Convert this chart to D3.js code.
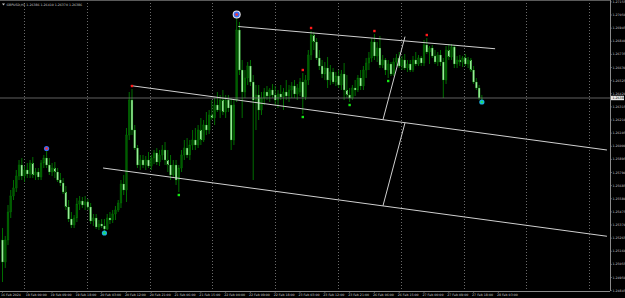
<!DOCTYPE html>
<html>
<head>
<meta charset="utf-8">
<script src="https://cdn.jsdelivr.net/npm/d3@7"></script>
<style>
  body { margin: 0; background: #000; }
  svg { display: block; }
  text { font-family: "DejaVu Sans", sans-serif; }
</style>
</head>
<body>
<div id="chart"></div>
<script>
// symbol + H1 candles
var symbolLabel = "GBPUSD,H1";

var opens = [1.25250,1.25074,1.25250,1.25474,1.25602,1.25666,1.25762,1.25850,1.25762,1.25810,
  1.25778,1.25866,1.25770,1.25794,1.25754,1.25866,1.25906,1.25850,1.25794,1.25826,
  1.25794,1.25730,1.25706,1.25634,1.25514,1.25418,1.25370,1.25426,1.25538,1.25562,
  1.25530,1.25554,1.25514,1.25402,1.25426,1.25354,1.25378,1.25362,1.25338,1.25426,
  1.25410,1.25458,1.25490,1.25546,1.25698,1.25650,1.26090,1.26370,1.26130,1.25986,
  1.25850,1.25890,1.25850,1.25890,1.25842,1.25906,1.25946,1.25874,1.25930,1.25970,
  1.25890,1.25850,1.25770,1.25850,1.25730,1.25826,1.25930,1.25986,1.25930,1.26010,
  1.26050,1.26010,1.26130,1.26050,1.26170,1.26130,1.26250,1.26226,1.26330,1.26290,
  1.26370,1.26274,1.26370,1.26330,1.26050,1.26370,1.26930,1.26610,1.26434,1.26546,
  1.26642,1.26514,1.26370,1.26410,1.26290,1.26386,1.26434,1.26402,1.26450,1.26410,
  1.26370,1.26418,1.26394,1.26434,1.26402,1.26450,1.26482,1.26418,1.26434,1.26514,
  1.26394,1.26530,1.26730,1.26890,1.26834,1.26706,1.26642,1.26578,1.26626,1.26530,
  1.26594,1.26514,1.26562,1.26490,1.26578,1.26450,1.26410,1.26386,1.26466,1.26450,
  1.26546,1.26482,1.26610,1.26666,1.26706,1.26834,1.26722,1.26786,1.26650,1.26690,
  1.26610,1.26658,1.26578,1.26674,1.26706,1.26642,1.26690,1.26626,1.26658,1.26610,
  1.26690,1.26658,1.26706,1.26666,1.26810,1.26754,1.26786,1.26722,1.26674,1.26730,
  1.26674,1.26530,1.26770,1.26714,1.26794,1.26658,1.26690,1.26674,1.26706,1.26658,
  1.26690,1.26610,1.26514,1.26466,1.26386];

var highs = [1.25346,1.25282,1.25530,1.25650,1.25730,1.25810,1.25890,1.25906,1.25842,1.25866,
  1.25890,1.25914,1.25826,1.25826,1.25890,1.25930,1.25970,1.25906,1.25866,1.25874,
  1.25826,1.25786,1.25746,1.25682,1.25570,1.25474,1.25450,1.25586,1.25602,1.25594,
  1.25602,1.25578,1.25546,1.25458,1.25458,1.25410,1.25418,1.25418,1.25458,1.25474,
  1.25490,1.25522,1.25570,1.25730,1.25770,1.26146,1.26434,1.26458,1.26170,1.26010,
  1.25930,1.25930,1.25922,1.25954,1.25930,1.25970,1.25986,1.25970,1.26010,1.26034,
  1.25970,1.25930,1.25890,1.25890,1.25850,1.25970,1.26050,1.26066,1.26050,1.26130,
  1.26146,1.26170,1.26226,1.26210,1.26274,1.26290,1.26370,1.26386,1.26434,1.26410,
  1.26450,1.26410,1.26410,1.26386,1.26370,1.27042,1.26994,1.26690,1.26610,1.26674,
  1.26690,1.26570,1.26490,1.26490,1.26434,1.26466,1.26482,1.26466,1.26498,1.26482,
  1.26450,1.26490,1.26466,1.26530,1.26490,1.26514,1.26530,1.26498,1.26546,1.26586,
  1.26570,1.26770,1.26922,1.26914,1.26866,1.26770,1.26690,1.26674,1.26714,1.26650,
  1.26626,1.26594,1.26610,1.26610,1.26666,1.26570,1.26466,1.26490,1.26530,1.26570,
  1.26610,1.26642,1.26706,1.26754,1.26866,1.26898,1.26834,1.26882,1.26730,1.26706,
  1.26690,1.26674,1.26706,1.26738,1.26754,1.26722,1.26738,1.26690,1.26690,1.26722,
  1.26754,1.26730,1.26722,1.26850,1.26866,1.26802,1.26810,1.26770,1.26754,1.26770,
  1.26706,1.26802,1.26818,1.26818,1.26810,1.26722,1.26730,1.26722,1.26738,1.26714,
  1.26706,1.26642,1.26546,1.26490,1.26410];

var lows = [1.24914,1.25026,1.25210,1.25426,1.25570,1.25634,1.25730,1.25730,1.25714,1.25746,
  1.25746,1.25746,1.25730,1.25730,1.25730,1.25826,1.25826,1.25770,1.25762,1.25746,
  1.25714,1.25682,1.25618,1.25490,1.25394,1.25346,1.25346,1.25394,1.25490,1.25506,
  1.25490,1.25490,1.25378,1.25362,1.25338,1.25330,1.25346,1.25322,1.25330,1.25378,
  1.25386,1.25410,1.25474,1.25506,1.25610,1.25554,1.26050,1.26090,1.25970,1.25826,
  1.25810,1.25826,1.25810,1.25826,1.25810,1.25858,1.25850,1.25842,1.25890,1.25850,
  1.25794,1.25730,1.25746,1.25690,1.25634,1.25794,1.25890,1.25906,1.25890,1.25970,
  1.25970,1.25986,1.26010,1.26034,1.26090,1.26098,1.26210,1.26170,1.26274,1.26226,
  1.26250,1.26226,1.26274,1.25970,1.26010,1.26354,1.26570,1.26226,1.26386,1.26490,
  1.26482,1.25730,1.26130,1.26210,1.26250,1.26330,1.26370,1.26354,1.26386,1.26330,
  1.26306,1.26370,1.26290,1.26370,1.26354,1.26386,1.26386,1.26370,1.26402,1.26258,
  1.26370,1.26490,1.26690,1.26770,1.26690,1.26610,1.26546,1.26530,1.26466,1.26490,
  1.26498,1.26482,1.26466,1.26450,1.26370,1.26386,1.26354,1.26370,1.26402,1.26434,
  1.26450,1.26450,1.26546,1.26610,1.26674,1.26690,1.26674,1.26626,1.26626,1.26570,
  1.26546,1.26562,1.26562,1.26642,1.26626,1.26610,1.26610,1.26594,1.26594,1.26594,
  1.26642,1.26642,1.26642,1.26642,1.26738,1.26658,1.26706,1.26658,1.26642,1.26642,
  1.26386,1.26498,1.26690,1.26690,1.26626,1.26626,1.26642,1.26634,1.26642,1.26626,
  1.26594,1.26498,1.26450,1.26370,1.26370];

var closes = [1.25074,1.25250,1.25474,1.25602,1.25666,1.25762,1.25850,1.25762,1.25810,1.25778,
  1.25866,1.25770,1.25794,1.25754,1.25866,1.25906,1.25850,1.25794,1.25826,1.25794,
  1.25730,1.25706,1.25634,1.25514,1.25418,1.25370,1.25426,1.25538,1.25562,1.25530,
  1.25554,1.25514,1.25402,1.25426,1.25354,1.25378,1.25362,1.25338,1.25426,1.25410,
  1.25458,1.25490,1.25546,1.25698,1.25650,1.26090,1.26370,1.26130,1.25986,1.25850,
  1.25890,1.25850,1.25890,1.25842,1.25906,1.25946,1.25874,1.25930,1.25970,1.25890,
  1.25850,1.25770,1.25850,1.25730,1.25826,1.25930,1.25986,1.25930,1.26010,1.26050,
  1.26010,1.26130,1.26050,1.26170,1.26130,1.26250,1.26226,1.26330,1.26290,1.26370,
  1.26274,1.26370,1.26306,1.26050,1.26330,1.26930,1.26610,1.26434,1.26546,1.26642,
  1.26514,1.26370,1.26410,1.26290,1.26386,1.26434,1.26402,1.26450,1.26410,1.26370,
  1.26418,1.26394,1.26434,1.26402,1.26450,1.26482,1.26418,1.26466,1.26514,1.26394,
  1.26530,1.26730,1.26890,1.26834,1.26706,1.26642,1.26578,1.26626,1.26530,1.26594,
  1.26514,1.26562,1.26490,1.26578,1.26450,1.26410,1.26386,1.26466,1.26450,1.26546,
  1.26482,1.26610,1.26666,1.26706,1.26834,1.26722,1.26786,1.26650,1.26690,1.26610,
  1.26658,1.26578,1.26674,1.26706,1.26642,1.26690,1.26626,1.26658,1.26610,1.26690,
  1.26658,1.26706,1.26666,1.26810,1.26754,1.26786,1.26722,1.26674,1.26730,1.26674,
  1.26530,1.26770,1.26714,1.26794,1.26658,1.26690,1.26674,1.26706,1.26658,1.26690,
  1.26610,1.26514,1.26466,1.26386,1.26386];

// time axis labels, one every 9 bars
var timeLabels = ["16 Feb 2024","19 Feb 00:00","19 Feb 09:00","19 Feb 18:00","20 Feb 03:00",
  "20 Feb 12:00","20 Feb 21:00","21 Feb 06:00","21 Feb 15:00","22 Feb 00:00","22 Feb 09:00",
  "22 Feb 18:00","23 Feb 03:00","23 Feb 12:00","23 Feb 21:00","26 Feb 06:00","26 Feb 15:00",
  "27 Feb 00:00","27 Feb 09:00","27 Feb 18:00","28 Feb 03:00"];

var priceTicks = [1.27155,1.27050,1.26945,1.26840,1.26735,1.26630,1.26525,1.26420,1.26315,
  1.26210,1.26105,1.26000,1.25895,1.25790,1.25685,1.25580,1.25475,1.25370,1.25265,1.25160,
  1.25055,1.24950,1.24845];

// fractal arrows (bar indexes)
var fractalUp = [47, 109, 112, 135, 154];
var fractalDown = [64, 109, 126, 140];

// zigzag swing points
var swingBars = [16, 37, 85, 174];
var swingSide = ["high", "low", "high", "low"];

// drawn channel lines: [bar, price] anchors
var channelLines = [
  [[85.6, 1.26958], [178.8, 1.26780]],
  [[46.6, 1.26485], [219.4, 1.25970]],
  [[36.5, 1.25826], [219.4, 1.25280]],
  [[146.1, 1.26877], [138.1, 1.26212]],
  [[146.1, 1.26188], [138.1, 1.25523]]
];

var W = 625, H = 298, plotRight = 610, plotBottom = 291;

var svg = d3.select("#chart").append("svg")
  .attr("width", W).attr("height", H)
  .style("background", "#000");

var x = d3.scaleLinear().domain([0, 174]).range([2.5, 2.5 + 174 * 2.755]);
var y = d3.scaleLinear().domain([1.2717, 1.2717 - 0.00008 * plotBottom]).range([0, plotBottom]);

// vertical dotted grid
var gridX = d3.range(24, plotRight, 62.8);
svg.selectAll(".grid").data(gridX).enter().append("line")
  .attr("x1", d => Math.round(d) + 0.5).attr("x2", d => Math.round(d) + 0.5)
  .attr("y1", 0).attr("y2", plotBottom)
  .attr("stroke", "#6a6a6a").attr("stroke-width", 1)
  .attr("stroke-dasharray", "1,2");

// frame
svg.append("line").attr("x1", 0).attr("x2", plotRight).attr("y1", 0.5).attr("y2", 0.5)
  .attr("stroke", "#5a5a5a");
svg.append("line").attr("x1", plotRight + 0.5).attr("x2", plotRight + 0.5).attr("y1", 0).attr("y2", plotBottom)
  .attr("stroke", "#8a8a8a");
svg.append("line").attr("x1", 0).attr("x2", plotRight).attr("y1", plotBottom + 0.5).attr("y2", plotBottom + 0.5)
  .attr("stroke", "#8a8a8a");

// candles
var bars = d3.range(opens.length);
var candle = svg.append("g");
candle.selectAll(".wick").data(bars).enter().append("line")
  .attr("x1", i => x(i)).attr("x2", i => x(i))
  .attr("y1", i => y(highs[i])).attr("y2", i => y(lows[i]))
  .attr("stroke", "#007a00").attr("stroke-width", 0.9);
candle.selectAll(".body").data(bars).enter().append("rect")
  .attr("x", i => x(i) - 0.95)
  .attr("width", 1.9)
  .attr("y", i => y(Math.max(opens[i], closes[i])))
  .attr("height", i => Math.max(0.8, Math.abs(y(opens[i]) - y(closes[i]))))
  .attr("fill", i => closes[i] < opens[i] ? "#9aee9a" : "#005c00")
  .attr("stroke", "#007a00").attr("stroke-width", 0.3);

// current price line
var last = closes[closes.length - 1];
svg.append("line").attr("x1", 0).attr("x2", plotRight)
  .attr("y1", y(last)).attr("y2", y(last))
  .attr("stroke", "#7a7a7a").attr("stroke-width", 0.8);

// channel lines
svg.selectAll(".chan").data(channelLines).enter().append("line")
  .attr("x1", d => x(d[0][0])).attr("y1", d => y(d[0][1]))
  .attr("x2", d => x(d[1][0])).attr("y2", d => y(d[1][1]))
  .attr("stroke", "#d0d0d0").attr("stroke-width", 1);

// fractals
svg.selectAll(".fup").data(fractalUp).enter().append("rect")
  .attr("x", i => x(i) - 1.2).attr("y", i => y(highs[i]) - 4.2)
  .attr("width", 2.4).attr("height", 2.4).attr("fill", "#ff1a1a");
svg.selectAll(".fdn").data(fractalDown).enter().append("rect")
  .attr("x", i => x(i) - 1.2).attr("y", i => y(lows[i]) + 1.8)
  .attr("width", 2.4).attr("height", 2.4).attr("fill", "#14e614");

// zigzag swing circles
swingBars.forEach(function(b, k) {
  var hi = swingSide[k] === "high";
  var cy = hi ? y(highs[b]) - 1.5 : y(lows[b]) + 2;
  var big = k === 2;
  var g = svg.append("g").attr("transform", "translate(" + x(b) + "," + cy + ")");
  if (big) g.append("circle").attr("r", 4).attr("fill", "#e8e8f0");
  g.append("circle").attr("r", big ? 3 : 2.6).attr("fill", hi ? "#3a6cf0" : "#1ab0e0");
  g.append("circle").attr("r", 1.3).attr("fill", hi ? "#ff3030" : "#20e060");
});

// price axis
var pa = svg.append("g");
pa.selectAll("line").data(priceTicks).enter().append("line")
  .attr("x1", plotRight).attr("x2", plotRight + 2)
  .attr("y1", d => y(d)).attr("y2", d => y(d))
  .attr("stroke", "#8a8a8a").attr("stroke-width", 0.6);
pa.selectAll("text").data(priceTicks).enter().append("text")
  .attr("x", plotRight + 2.5).attr("y", d => y(d) + 1.1)
  .attr("fill", "#c8c8c8").style("font-size", "3.2px")
  .text(d => d.toFixed(5));

// current price tag
svg.append("rect").attr("x", plotRight + 1).attr("y", y(last) - 2.2)
  .attr("width", 13).attr("height", 4.4).attr("fill", "#e6e6e6");
svg.append("text").attr("x", plotRight + 2.5).attr("y", y(last) + 1.1)
  .attr("fill", "#000").style("font-size", "3.2px").text(last.toFixed(5));

// time axis
var ta = svg.append("g");
ta.selectAll("line").data(timeLabels).enter().append("line")
  .attr("x1", (d, k) => x(k * 9)).attr("x2", (d, k) => x(k * 9))
  .attr("y1", plotBottom).attr("y2", plotBottom + 2)
  .attr("stroke", "#8a8a8a").attr("stroke-width", 0.6);
ta.selectAll("text").data(timeLabels).enter().append("text")
  .attr("x", (d, k) => x(k * 9) - 1.5).attr("y", plotBottom + 5)
  .attr("fill", "#c8c8c8").style("font-size", "3.2px")
  .text(d => d);

// header: symbol and last bar OHLC
var n = closes.length - 1;
svg.append("path").attr("d", "M2,3.5 L5,3.5 L3.5,5.5 Z").attr("fill", "#c8c8c8");
svg.append("text").attr("x", 6.5).attr("y", 5.6)
  .attr("fill", "#c8c8c8").style("font-size", "3.2px")
  .text(symbolLabel + "  " + [opens[n], highs[n], lows[n], closes[n]].map(v => v.toFixed(5)).join(" "));
</script>
</body>
</html>
